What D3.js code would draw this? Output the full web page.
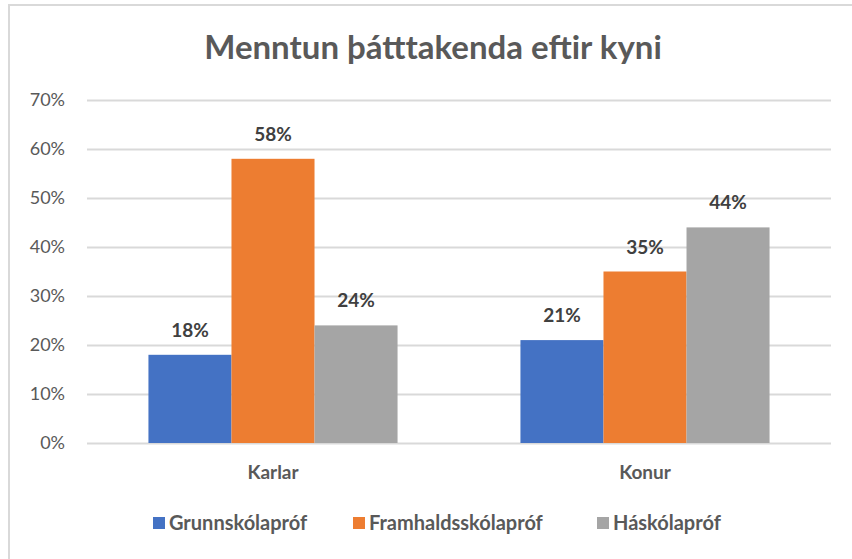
<!DOCTYPE html>
<html>
<head>
<meta charset="utf-8">
<script src="https://cdn.jsdelivr.net/npm/d3@7"></script>
<style>
  body { margin: 0; background: #fff; }
  svg { display: block; font-family: Lato, "Open Sans", sans-serif; }
</style>
</head>
<body>
<div id="wrapper"></div>
<script>
// data
const categories = ["Karlar", "Konur"];
const seriesNames = ["Grunnskólapróf", "Framhaldsskólapróf", "Háskólapróf"];
const grunnskoli = [0.18, 0.21];
const framhaldsskoli = [0.58, 0.35];
const haskoli = [0.24, 0.44];
const yTicks = [0, 0.1, 0.2, 0.3, 0.4, 0.5, 0.6, 0.7];
const colors = ["#4472C4", "#ED7D31", "#A5A5A5"];

const seriesValues = [grunnskoli, framhaldsskoli, haskoli];

const width = 852;
const height = 559;
const margin = { top: 100, right: 21, bottom: 116, left: 87 };
const boundedWidth = width - margin.left - margin.right;
const boundedHeight = height - margin.top - margin.bottom;

const svg = d3.select("#wrapper")
  .append("svg")
    .attr("width", width)
    .attr("height", height);

// chart frame (left + top visible)
svg.append("path")
    .attr("d", `M9,${height} L9,5 L${width},5`)
    .attr("fill", "none")
    .attr("stroke", "#d9d9d9")
    .attr("stroke-width", 2);

svg.append("text")
    .attr("x", 433)
    .attr("y", 59)
    .attr("text-anchor", "middle")
    .attr("fill", "#595959")
    .style("font-size", "33px")
    .style("font-weight", "bold")
    .text("Menntun þátttakenda eftir kyni");

const bounds = svg.append("g")
    .attr("transform", `translate(${margin.left},${margin.top})`);

// scales
const xScale = d3.scaleBand()
  .domain(categories)
  .range([0, boundedWidth]);

const xInner = d3.scaleBand()
  .domain(seriesNames)
  .range([0, xScale.bandwidth()])
  .paddingInner(0)
  .paddingOuter(0.74);

const yScale = d3.scaleLinear()
  .domain([0, 0.7])
  .range([boundedHeight, 0]);

// gridlines
bounds.append("g")
  .selectAll("line")
  .data(yTicks)
  .join("line")
    .attr("x1", 0)
    .attr("x2", boundedWidth)
    .attr("y1", d => Math.round(yScale(d)) + 0.5)
    .attr("y2", d => Math.round(yScale(d)) + 0.5)
    .attr("stroke", "#d9d9d9")
    .attr("stroke-width", 2);

// y axis labels
const yAxis = bounds.append("g")
  .call(d3.axisLeft(yScale).tickValues(yTicks).tickFormat(d3.format(".0%")).tickSize(0).tickPadding(22));
yAxis.select(".domain").remove();
yAxis.selectAll("text")
    .attr("fill", "#595959")
    .style("font-size", "18px")
    .style("font-family", "Lato, 'Open Sans', sans-serif");

// bars
const groups = bounds.append("g")
  .selectAll("g")
  .data(categories)
  .join("g")
    .attr("transform", d => `translate(${xScale(d)},0)`);

groups.selectAll("rect")
  .data((d, i) => seriesNames.map((s, j) => ({ series: s, value: seriesValues[j][i], j })))
  .join("rect")
    .attr("x", d => xInner(d.series))
    .attr("y", d => yScale(d.value))
    .attr("width", xInner.bandwidth())
    .attr("height", d => boundedHeight - yScale(d.value))
    .attr("fill", d => colors[d.j]);

groups.selectAll("text")
  .data((d, i) => seriesNames.map((s, j) => ({ series: s, value: seriesValues[j][i] })))
  .join("text")
    .attr("x", d => xInner(d.series) + xInner.bandwidth() / 2)
    .attr("y", d => yScale(d.value) - 18)
    .attr("text-anchor", "middle")
    .attr("fill", "#404040")
    .style("font-size", "19px")
    .style("font-weight", "bold")
    .text(d => d3.format(".0%")(d.value));

// x axis labels
const xAxis = bounds.append("g")
  .attr("transform", `translate(0,${boundedHeight})`)
  .call(d3.axisBottom(xScale).tickSize(0).tickPadding(23));
xAxis.select(".domain").remove();
xAxis.selectAll("text")
    .attr("fill", "#595959")
    .style("font-size", "19px")
    .style("font-weight", "bold")
    .style("font-family", "Lato, 'Open Sans', sans-serif");

// legend
const legendX = [153, 353, 597];
const legend = svg.append("g")
  .selectAll("g")
  .data(seriesNames)
  .join("g")
    .attr("transform", (d, i) => `translate(${legendX[i]},523)`);

legend.append("rect")
    .attr("x", 0)
    .attr("y", -6)
    .attr("width", 12)
    .attr("height", 12)
    .attr("fill", (d, i) => colors[i]);

legend.append("text")
    .attr("x", 16)
    .attr("y", 7)
    .attr("fill", "#595959")
    .style("font-size", "20px")
    .style("font-weight", "bold")
    .text(d => d);
</script>
</body>
</html>
